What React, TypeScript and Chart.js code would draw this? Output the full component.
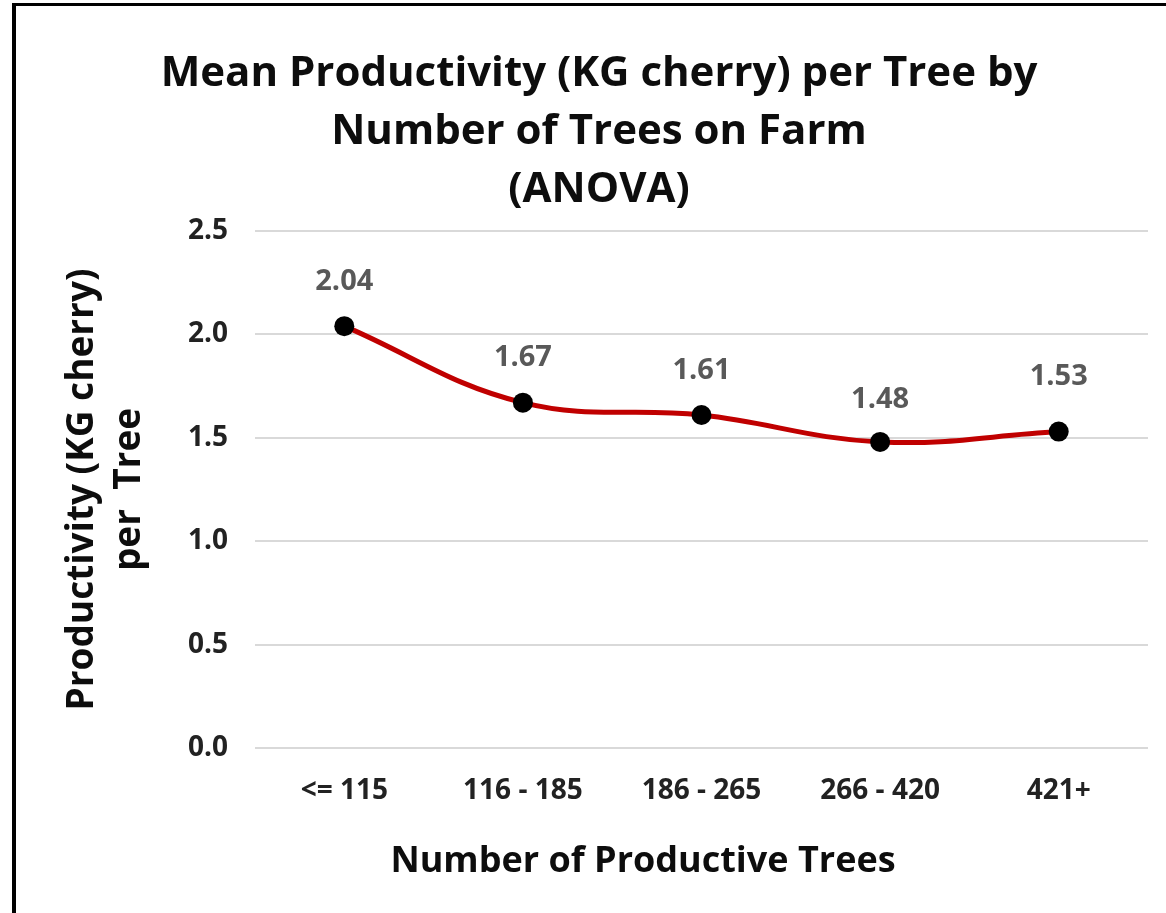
import React, { useEffect, useRef } from "react";
import { Chart, registerables } from "chart.js";

Chart.register(...registerables);

const categories = ["<= 115", "116 - 185", "186 - 265", "266 - 420", "421+"];
const productivity = [2.04, 1.67, 1.61, 1.48, 1.53];
const pointLabels = ["2.04", "1.67", "1.61", "1.48", "1.53"];
const titleLines = [
  "Mean Productivity (KG cherry) per Tree by",
  "Number of Trees on Farm",
  "(ANOVA)",
];
const yTitleLines = ["Productivity (KG cherry)", "per  Tree"];
const xTitleText = "Number of Productive Trees";
const yMin = 0;
const yMax = 2.5;
const yStep = 0.5;

const FONT = "'Open Sans', Lato, 'DejaVu Sans', sans-serif";

const W = 1166;
const H = 913;

// label placement style (pixels above each marker)
const LABEL_GAP_STYLE = [44, 45, 44, 42, 55];

const pointLabelPlugin = {
  id: "pointLabelPlugin",
  afterDatasetsDraw(chart: any) {
    const meta = chart.getDatasetMeta(0);
    const ctx = chart.ctx;
    ctx.save();
    ctx.font = `bold 29px ${FONT}`;
    ctx.fillStyle = "#595959";
    ctx.textAlign = "center";
    ctx.textBaseline = "middle";
    meta.data.forEach((pt: any, i: number) => {
      ctx.fillText(pointLabels[i], pt.x, pt.y - (LABEL_GAP_STYLE[i] ?? 44));
    });
    ctx.restore();
  },
};

const xTitlePlugin = {
  id: "xTitlePlugin",
  afterDraw(chart: any) {
    const ctx = chart.ctx;
    ctx.save();
    ctx.font = `bold 36px ${FONT}`;
    ctx.fillStyle = "#0d0d0d";
    ctx.textAlign = "center";
    ctx.textBaseline = "middle";
    ctx.fillText(xTitleText, 643, 862);
    ctx.restore();
  },
};

export default function App() {
  const canvasRef = useRef<HTMLCanvasElement | null>(null);

  useEffect(() => {
    document.body.style.margin = "0";
    document.body.style.overflow = "hidden";
    const canvas = canvasRef.current;
    if (!canvas) return;
    const chart = new Chart(canvas, {
      type: "line",
      data: {
        labels: categories,
        datasets: [
          {
            data: productivity,
            borderColor: "#C00000",
            borderWidth: 5,
            tension: 0.4,
            pointRadius: 10,
            pointHoverRadius: 10,
            pointBackgroundColor: "#000000",
            pointBorderColor: "#000000",
            pointBorderWidth: 0,
            fill: false,
          },
        ],
      },
      options: {
        responsive: false,
        animation: false,
        devicePixelRatio: 1,
        layout: { padding: { left: 50, right: 18, top: 0, bottom: 0 } },
        plugins: {
          legend: { display: false },
          tooltip: { enabled: false },
          title: {
            display: true,
            text: titleLines,
            color: "#0d0d0d",
            font: { family: FONT, size: 42, weight: "bold", lineHeight: 58 / 42 },
            padding: { top: 45, bottom: 12 },
          },
        },
        scales: {
          x: {
            offset: true,
            grid: { display: false, drawTicks: false },
            border: { display: false },
            ticks: {
              color: "#222222",
              font: { family: FONT, size: 28, weight: "bold" },
              padding: 26,
              maxRotation: 0,
              autoSkip: false,
            },
            afterFit: (scale: any) => {
              scale.height = 165;
            },
          },
          y: {
            min: yMin,
            max: yMax,
            grid: { color: "#D9D9D9", lineWidth: 2, drawTicks: false },
            border: { display: false },
            ticks: {
              stepSize: yStep,
              color: "#222222",
              font: { family: FONT, size: 28, weight: "bold" },
              padding: 27,
              callback: (v: any) => Number(v).toFixed(1),
            },
            title: {
              display: true,
              text: yTitleLines,
              color: "#0d0d0d",
              font: { family: FONT, size: 37, weight: "bold", lineHeight: 47 / 37 },
              padding: { top: 9, bottom: 0 },
            },
            afterFit: (scale: any) => {
              scale.width = 205;
            },
          },
        },
      },
      plugins: [pointLabelPlugin, xTitlePlugin],
    });
    return () => chart.destroy();
  }, []);

  return (
    <div style={{ position: "relative", width: W, height: H, background: "#fff" }}>
      <canvas ref={canvasRef} width={W} height={H} style={{ display: "block", width: W, height: H }} />
      <div
        style={{
          position: "absolute",
          left: 12,
          top: 3,
          width: W - 12,
          height: H - 3,
          borderLeft: "4px solid #000",
          borderTop: "3px solid #000",
          boxSizing: "border-box",
          pointerEvents: "none",
        }}
      />
    </div>
  );
}
